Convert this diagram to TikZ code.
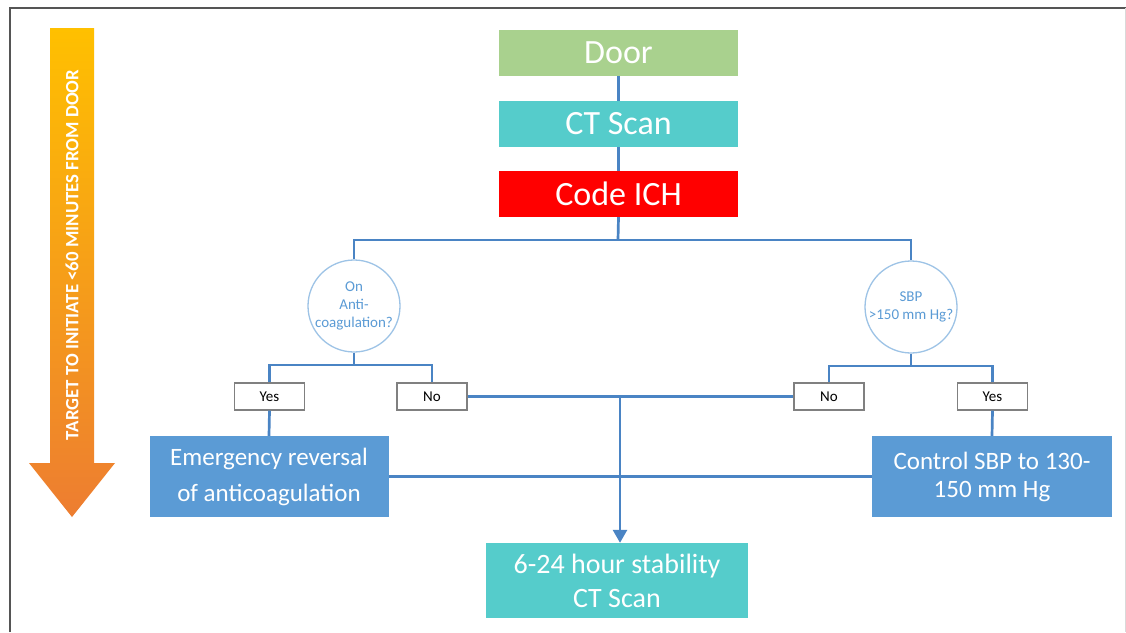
\documentclass[tikz,border=0pt]{standalone}
\usepackage{fontspec}
\setmainfont{Carlito}
\usetikzlibrary{arrows.meta}
\definecolor{doorgreen}{HTML}{A9D18E}
\definecolor{ctteal}{HTML}{55CCCB}
\definecolor{codered}{HTML}{FF0000}
\definecolor{actblue}{HTML}{5B9BD5}
\definecolor{linkblue}{HTML}{4A84C4}
\definecolor{circblue}{HTML}{9DC3E6}
\definecolor{gold}{HTML}{FFC000}
\definecolor{orng}{HTML}{ED7D31}
\definecolor{framegray}{HTML}{555555}
\begin{document}
\begin{tikzpicture}[x=1pt,y=-1pt,
  topbox/.style={draw=none, inner sep=0pt, minimum width=239pt, minimum height=46pt, text=white, font=\fontsize{34}{38}\selectfont},
  actbox/.style={draw=none, fill=actblue, inner sep=0pt, minimum width=239pt, minimum height=81pt, text=white, align=center},
  question/.style={circle, draw=circblue, line width=1.3pt, fill=white, minimum size=92pt, inner sep=0pt, text=actblue, align=center, font=\fontsize{15}{18}\selectfont},
  answer/.style={draw=gray, line width=1.2pt, fill=white, minimum width=70pt, minimum height=27pt, inner sep=0pt, font=\fontsize{15}{18}\selectfont},
  link/.style={draw=linkblue, line width=2.7pt},
]
\useasboundingbox (0,0) rectangle (1126,632);
\fill[white] (0,0) rectangle (1126,632);
% frame
\draw[framegray, line width=2.5pt] (10,632) -- (10,8) -- (1126,8);
\draw[gray!30, line width=1pt] (1125,8) -- (1125,632);

% time arrow
\shade[top color=gold, bottom color=orng]
  (50,28) -- (94,28) -- (94,463) -- (115,463) -- (72,517) -- (29,463) -- (50,463) -- cycle;
\node[rotate=90, text=white, font=\bfseries\fontsize{18.8}{21}\selectfont] (target) at (72,255) {TARGET TO INITIATE <60 MINUTES FROM DOOR};

% top chain
\node[topbox, fill=doorgreen] (door) at (618.5,53) {Door};
\node[topbox, fill=ctteal] (ct) at (618.5,124) {CT Scan};
\node[topbox, fill=codered] (code) at (618.5,194) {Code ICH};

% questions
\node[question] (q1) at (354,306) {On\\Anti-\\coagulation?};
\node[question] (q2) at (911,307) {SBP\\>150 mm Hg?};

% answers
\node[answer] (yes1) at (269.5,396.5) {Yes};
\node[answer] (no1) at (432,396.5) {No};
\node[answer] (no2) at (829,396.5) {No};
\node[answer] (yes2) at (992.5,396.5) {Yes};

% actions
\node[actbox, font=\fontsize{25}{36}\selectfont] (emerg) at (269,476.5) {Emergency reversal\\of anticoagulation};
\node[actbox, font=\fontsize{25}{28}\selectfont, minimum width=240pt] (ctrl) at (992,476.5) {Control SBP to 130-\\150 mm Hg};
\node[actbox, fill=ctteal, minimum width=262pt, minimum height=75pt, font=\fontsize{28}{34}\selectfont] (final) at (617,580.5) {6-24 hour stability\\CT Scan};

% junction coordinates
\coordinate (bar) at (618,240);
\coordinate (s1) at (354,365);
\coordinate (s2) at (911,366);
\coordinate (j) at (620,396.5);

% connectors
\draw[link] (door.south) -- (ct.north);
\draw[link] (ct.south) -- (code.north);
\draw[link] (code.south) -- (bar);
\draw[link] (q1.north) |- (bar) -| (q2.north);
\draw[link] (q1.south) -- (s1);
\draw[link] (yes1.north) |- (s1) -| (no1.north);
\draw[link] (q2.south) -- (s2);
\draw[link] (no2.north) |- (s2) -| (yes2.north);
\draw[link] (no1.east) -- (no2.west);
\draw[link, -{Triangle[length=13pt,width=14pt]}] (j) -- (j |- final.north);
\draw[link] (yes1.south) -- (emerg.north);
\draw[link] (yes2.south) -- (ctrl.north);
\draw[link] (emerg.east) -- (ctrl.west);
\end{tikzpicture}
\end{document}
